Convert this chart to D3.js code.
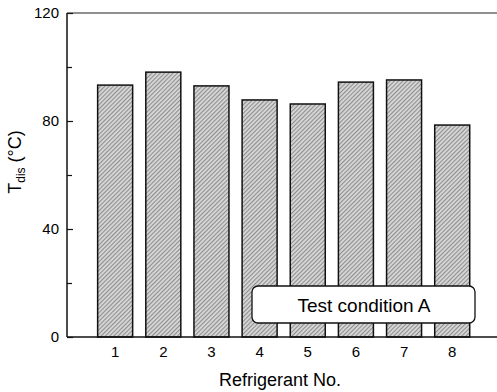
<!DOCTYPE html>
<html>
<head>
<meta charset="utf-8">
<script src="https://cdn.jsdelivr.net/npm/d3@7"></script>
<style>
  body { margin: 0; background: #fff; }
  svg { display: block; font-family: Arial, "Liberation Sans", sans-serif; }
</style>
</head>
<body>
<svg width="497" height="392"></svg>
<script>
// data
const refrigerants = [1, 2, 3, 4, 5, 6, 7, 8];
const tdis = [93.3, 98.1, 93.0, 87.8, 86.3, 94.4, 95.2, 78.5];
const yTicks = [0, 40, 80, 120];
const yMinor = [20, 60, 100];

let svg = d3.select("svg"),
    margin = { top: 13, right: 0, bottom: 55, left: 67 },
    width = svg.attr("width") - margin.left - margin.right,
    height = svg.attr("height") - margin.top - margin.bottom,
    g = svg.append("g").attr("transform", "translate(" + margin.left + "," + margin.top + ")");

// hatch pattern for the bars
let pat = svg.append("defs").append("pattern")
    .attr("id", "hatch")
    .attr("patternUnits", "userSpaceOnUse")
    .attr("width", 3).attr("height", 3)
    .attr("patternTransform", "rotate(45)");
pat.append("rect").attr("width", 3).attr("height", 3).attr("fill", "#d8d8d8");
pat.append("rect").attr("width", 1.1).attr("height", 3).attr("fill", "#8e8e8e");

let x = d3.scaleLinear().domain([0, 8.93]).range([0, width]);
let y = d3.scaleLinear().domain([0, 120]).range([height, 0]);
let barW = 35;

// bars
g.selectAll("rect.bar")
    .data(refrigerants)
    .enter().append("rect")
    .attr("class", "bar")
    .attr("x", d => x(d) - barW / 2)
    .attr("y", (d, i) => y(tdis[i]))
    .attr("width", barW)
    .attr("height", (d, i) => height - y(tdis[i]))
    .attr("fill", "url(#hatch)")
    .attr("stroke", "#111")
    .attr("stroke-width", 1.5);

// y axis, ticks pointing inward
g.append("g")
    .call(d3.axisRight(y).tickValues(yTicks).tickSize(6).tickFormat(""))
    .select(".domain").remove();
g.append("g")
    .call(d3.axisRight(y).tickValues(yMinor).tickSize(5).tickFormat(""))
    .select(".domain").remove();
g.selectAll(".tick line").attr("stroke", "#111").attr("stroke-width", 1.2);

g.selectAll("text.ylab")
    .data(yTicks)
    .enter().append("text")
    .attr("class", "ylab")
    .attr("x", -8)
    .attr("y", d => y(d))
    .attr("dy", "0.36em")
    .attr("text-anchor", "end")
    .style("font-size", "15px")
    .text(d => d);

// axis lines
g.append("line").attr("x1", 0).attr("x2", 0).attr("y1", 0).attr("y2", height)
    .attr("stroke", "#111").attr("stroke-width", 1.5);
g.append("line").attr("x1", 0).attr("x2", width).attr("y1", height).attr("y2", height)
    .attr("stroke", "#111").attr("stroke-width", 1.5);
g.append("line").attr("x1", 0).attr("x2", width).attr("y1", 0).attr("y2", 0)
    .attr("stroke", "#222").attr("stroke-width", 1.2);

// x tick labels
g.selectAll("text.xlab")
    .data(refrigerants)
    .enter().append("text")
    .attr("class", "xlab")
    .attr("x", d => x(d))
    .attr("y", height + 20)
    .attr("text-anchor", "middle")
    .style("font-size", "15px")
    .text(d => d);

// axis titles
svg.append("text")
    .attr("x", 280)
    .attr("y", 386)
    .attr("text-anchor", "middle")
    .style("font-size", "18px")
    .text("Refrigerant No.");

let yt = svg.append("text")
    .attr("transform", "translate(21,162) rotate(-90)")
    .attr("text-anchor", "middle")
    .style("font-size", "18px");
yt.append("tspan").text("T");
yt.append("tspan").attr("dy", 4).style("font-size", "12px").text("dis");
yt.append("tspan").attr("dy", -4).text(" (°C)");

// legend box
svg.append("rect")
    .attr("x", 252).attr("y", 286)
    .attr("width", 223).attr("height", 37)
    .attr("rx", 6)
    .attr("fill", "#fff")
    .attr("stroke", "#111")
    .attr("stroke-width", 1.3);
svg.append("text")
    .attr("x", 364).attr("y", 312)
    .attr("text-anchor", "middle")
    .style("font-size", "19px")
    .text("Test condition A");
</script>
</body>
</html>
